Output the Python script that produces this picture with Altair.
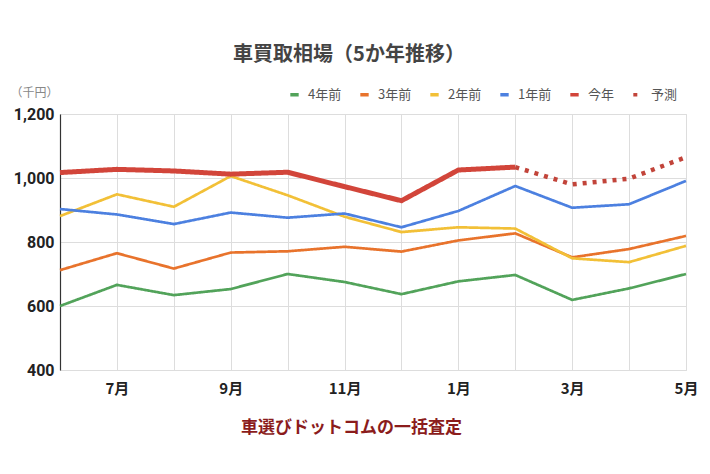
import altair as alt
import pandas as pd

months = ["6月", "7月", "8月", "9月", "10月", "11月", "12月", "1月", "2月", "3月", "4月", "5月"]
series_names = ["4年前", "3年前", "2年前", "1年前", "今年", "予測"]
y4 = [600, 666, 634, 653, 700, 675, 637, 677, 697, 619, 655, 700]
y3 = [712, 765, 717, 767, 771, 785, 770, 805, 827, 752, 778, 819]
y2 = [881, 949, 910, 1006, 946, 879, 831, 846, 842, 749, 737, 788]
y1 = [903, 886, 856, 892, 876, 889, 846, 897, 975, 907, 918, 991]
y0 = [1017, 1027, 1022, 1012, 1018, 973, 929, 1025, 1034, None, None, None]
yf = [None, None, None, None, None, None, None, None, 1034, 980, 998, 1065]
colors = ["#52a35a", "#e8732c", "#f2c037", "#4c80e0", "#d2453a", "#c2443a"]
widths = [2.7, 2.7, 2.7, 2.7, 5, 4.5]
dashes = [[1, 0], [1, 0], [1, 0], [1, 0], [1, 0], [4, 6]]
show_labels = ["7月", "9月", "11月", "1月", "3月", "5月"]

rows = []
for name, w, vals in zip(series_names, widths, [y4, y3, y2, y1, y0, yf]):
    for i, (m, v) in enumerate(zip(months, vals)):
        if v is not None:
            rows.append({"month": m, "series": name, "value": v, "w": w})
df = pd.DataFrame(rows)

font = "Noto Sans CJK JP"
label_js = "[" + ",".join("'%s'" % s for s in show_labels) + "]"

chart = alt.Chart(df).mark_line(strokeCap="butt", strokeJoin="round").encode(
    x=alt.X("month:O", sort=months,
            scale=alt.Scale(type="point", padding=0),
            axis=alt.Axis(title="車選びドットコムの一括査定", titleColor="#8b1c1c",
                          titleFont=font, titleFontSize=17, titleFontWeight="bold",
                          titlePadding=23, titleX=291,
                          labelAngle=0, labelFont=font, labelFontSize=15,
                          labelFontWeight="bold", labelColor="#222", labelPadding=11,
                          labelExpr="indexof(%s, datum.value) >= 0 ? datum.label : ''" % label_js,
                          ticks=False, domain=False, grid=True, gridColor="#dddddd")),
    y=alt.Y("value:Q", scale=alt.Scale(domain=[400, 1200], nice=False, zero=False),
            axis=alt.Axis(values=[400, 600, 800, 1000, 1200], format=",d",
                          title="（千円）", titleAngle=0, titleX=-26, titleY=-22,
                          titleAlign="center", titleBaseline="middle",
                          titleFont=font, titleFontSize=12, titleFontWeight="normal",
                          titleColor="#888",
                          labelFont="Roboto", labelFontSize=16, labelFontWeight="bold",
                          labelColor="#222", labelPadding=6,
                          ticks=False, domain=True, domainColor="#333", domainWidth=1.2,
                          grid=True, gridColor="#dddddd")),
    color=alt.Color("series:N", sort=series_names,
                    scale=alt.Scale(domain=series_names, range=colors),
                    legend=alt.Legend(title=None, orient="none", direction="horizontal",
                                      legendX=228, legendY=-26,
                                      symbolType="stroke", symbolSize=70,
                                      symbolStrokeWidth=3.5, columnPadding=11,
                                      labelFont=font, labelFontSize=13,
                                      labelColor="#555", labelOffset=7)),
    strokeWidth=alt.StrokeWidth("w:Q", scale=None, legend=None),
    strokeDash=alt.StrokeDash("series:N", sort=series_names,
                              scale=alt.Scale(domain=series_names, range=dashes),
                              legend=alt.Legend(title=None)),
    detail="series:N",
).properties(
    width=626, height=256,
    autosize=alt.AutoSizeParams(type="none"),
    padding={"left": 52, "top": 106, "right": 16, "bottom": 90},
    title=alt.TitleParams("車買取相場（5か年推移）", font=font, fontSize=20,
                          fontWeight="bold", color="#444", anchor="middle",
                          dx=-24, offset=21),
).configure_view(stroke=None).configure(background="white")

chart.save("out.html", embed_options={"renderer": "svg", "actions": False})
